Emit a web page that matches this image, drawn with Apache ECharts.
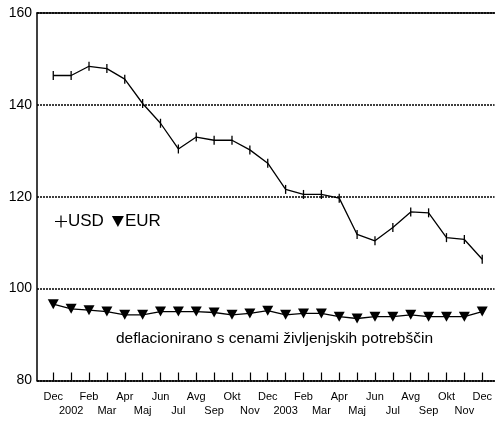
<!DOCTYPE html>
<html>
<head>
<meta charset="utf-8">
<script src="https://cdn.jsdelivr.net/npm/echarts@6/dist/echarts.min.js"></script>
<style>
  html, body { margin: 0; padding: 0; background: #fff; }
  #chart { width: 495px; height: 423px; }
</style>
</head>
<body>
<div id="chart"></div>
<script>
// meseci: Dec 2001 .. Dec 2003, januar je oznacen z letnico
var months = ['Dec', '2002', 'Feb', 'Mar', 'Apr', 'Maj', 'Jun', 'Jul', 'Avg', 'Sep', 'Okt', 'Nov',
              'Dec', '2003', 'Feb', 'Mar', 'Apr', 'Maj', 'Jun', 'Jul', 'Avg', 'Sep', 'Okt', 'Nov', 'Dec'];
var usd = [146.4, 146.4, 148.4, 147.9, 145.6, 140.3, 136.0, 130.4, 133.0, 132.3, 132.3, 130.2,
           127.3, 121.6, 120.5, 120.5, 119.7, 111.8, 110.4, 113.3, 116.7, 116.5, 111.1, 110.7, 106.4];
var eur = [96.6, 95.6, 95.3, 95.0, 94.3, 94.3, 95.0, 95.0, 95.0, 94.8, 94.3, 94.6,
           95.2, 94.3, 94.6, 94.6, 93.9, 93.5, 93.9, 93.9, 94.3, 93.9, 93.9, 93.9, 95.0];
var yTicks = [80, 100, 120, 140, 160];
var note = 'deflacionirano s cenami življenjskih potrebščin';

var idx = months.map(function (m, i) { return i; });
var evenIdx = idx.filter(function (i) { return i % 2 === 0; });
var oddIdx = idx.filter(function (i) { return i % 2 === 1; });
function pairs(arr) {
    return arr.map(function (v, i) { return [i, v]; });
}
function monthLabel(v) {
    return months[Math.round(v)];
}

var chart = echarts.init(document.getElementById('chart'));
var font = 'Liberation Sans, Arial, sans-serif';
var xMin = -0.91, xMax = 24.69;

chart.setOption({
    animation: false,
    textStyle: { fontFamily: font, color: '#000' },
    grid: { left: 37, right: 0, top: 13, bottom: 42.5 },
    legend: {
        left: 50,
        top: 208,
        itemGap: 8,
        itemWidth: 12,
        itemHeight: 12,
        textStyle: { fontSize: 17, color: '#000', padding: [0, 0, 0, -4] },
        data: [
            { name: 'USD', icon: 'path://M0,5.4h12v1.2h-12z M5.4,0h1.2v12h-1.2z' },
            { name: 'EUR', icon: 'path://M0,0 L12,0 L6,11 Z' }
        ]
    },
    xAxis: [{
        // spodnja os, zgornja vrsta oznak
        type: 'value',
        min: xMin,
        max: xMax,
        splitLine: { show: false },
        axisLine: { onZero: false, lineStyle: { color: '#000', width: 1.5 } },
        axisTick: {
            inside: true, length: 8,
            customValues: idx,
            lineStyle: { color: '#000', width: 1.2 }
        },
        axisLabel: {
            customValues: evenIdx,
            fontSize: 11,
            color: '#000',
            margin: 11,
            formatter: monthLabel
        }
    }, {
        // spodnja os, spodnja vrsta oznak
        type: 'value',
        position: 'bottom',
        min: xMin,
        max: xMax,
        splitLine: { show: false },
        axisLine: { show: false, onZero: false },
        axisTick: { show: false },
        axisLabel: {
            customValues: oddIdx,
            fontSize: 11,
            color: '#000',
            margin: 25,
            formatter: monthLabel
        }
    }, {
        // zgornji rob
        type: 'value',
        position: 'top',
        min: xMin,
        max: xMax,
        splitLine: { show: false },
        axisTick: { show: false },
        axisLabel: { show: false },
        axisLine: { onZero: false, lineStyle: { color: '#000', width: 1.5 } }
    }],
    yAxis: {
        type: 'value',
        min: yTicks[0],
        max: yTicks[yTicks.length - 1],
        interval: 20,
        axisLine: { show: true, onZero: false, lineStyle: { color: '#000', width: 1.5 } },
        axisTick: { show: false },
        axisLabel: { fontSize: 14, color: '#000', margin: 5 },
        splitLine: { lineStyle: { color: '#000', type: [2, 1], width: 1.5 } }
    },
    series: [{
        name: 'USD',
        type: 'line',
        data: pairs(usd),
        symbol: 'rect',
        symbolSize: [1.3, 9],
        lineStyle: { color: '#000', width: 1.3 },
        itemStyle: { color: '#000' }
    }, {
        name: 'EUR',
        type: 'line',
        data: pairs(eur),
        symbol: 'path://M0,0 L10,0 L5,9 Z',
        symbolSize: [11, 10],
        lineStyle: { color: '#000', width: 1.3 },
        itemStyle: { color: '#000' }
    }],
    graphic: [{
        type: 'text',
        left: 116,
        top: 331,
        style: {
            text: note,
            font: '15.5px ' + font,
            fill: '#000'
        }
    }]
});
</script>
</body>
</html>
